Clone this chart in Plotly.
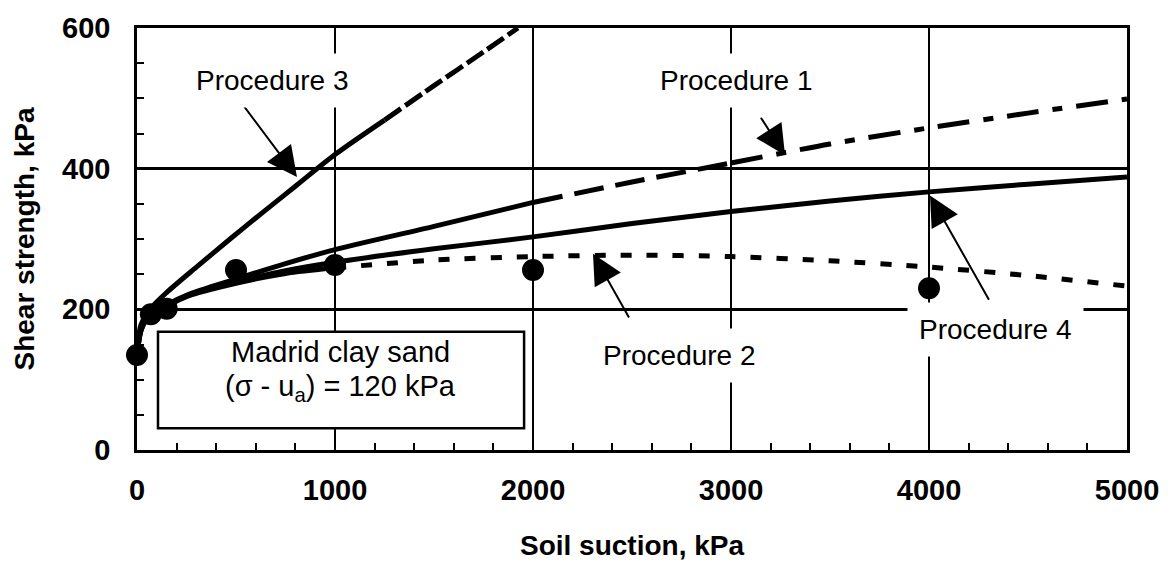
import plotly.graph_objects as go

# ---- data ----
suction_obs = [0, 70, 150, 500, 1000, 2000, 4000]
strength_obs = [135, 193, 201, 256, 263, 256, 230]

x_main = [0, 20, 50, 100, 250, 500, 750, 1000, 1500, 2000, 2500, 3000, 3500, 4000, 4500, 5000]
proc1 = [135, 170, 187, 198, 220, 243, 265, 285, 318, 352, 381, 408, 435, 458, 479, 499]
proc4 = [135, 170, 187, 197, 219, 239, 255, 267, 286, 303, 322, 339, 354, 367, 378, 388]
proc2 = [135, 170, 186, 196, 218, 237, 251, 259, 270, 275, 277, 275, 269, 260, 248, 233]

x_p3 = [0, 20, 75, 150, 300, 470, 640, 800, 1000, 1250, 1500, 1750, 1924]
proc3 = [135, 178, 203, 224, 260, 300, 339, 375, 420, 469, 518, 566, 600]

x_ticks = [0, 1000, 2000, 3000, 4000, 5000]
y_ticks = [0, 200, 400, 600]

FONT = "Liberation Sans"
fig = go.Figure()


def seg(xs, ys, lo, hi, dash, width=5):
    sx = [a for a in xs if lo <= a <= hi]
    sy = [b for a, b in zip(xs, ys) if lo <= a <= hi]
    fig.add_trace(go.Scatter(x=sx, y=sy, mode="lines",
                             line=dict(color="black", width=width, dash=dash,
                                       shape="spline", smoothing=0.8),
                             hoverinfo="skip", showlegend=False))


# Procedure 4 (solid)
seg(x_main, proc4, 0, 5000, "solid")
# Procedure 2 (solid then short dashes)
seg(x_main, proc2, 0, 1000, "solid")
seg(x_main, proc2, 1000, 5000, "11px,15px")
# Procedure 1 (solid, long dash, dash-dot)
seg(x_main, proc1, 0, 2000, "solid")
seg(x_main, proc1, 2000, 3000, "30px,12px")
seg(x_main, proc1, 3000, 5000, "32px,14px,10px,14px")
# Procedure 3 (solid then dashed)
seg(x_p3, proc3, 0, 1250, "solid")
seg(x_p3, proc3, 1250, 1924, "20px,5px")

# measured points
fig.add_trace(go.Scatter(x=suction_obs, y=strength_obs, mode="markers",
                         marker=dict(color="black", size=22), cliponaxis=False,
                         hoverinfo="skip", showlegend=False))

# Madrid clay box
fig.add_shape(type="rect", x0=106, x1=1955, y0=31, y1=168, xref="x", yref="y",
              line=dict(color="black", width=2.5), fillcolor="white", layer="above")
fig.add_annotation(x=1030, y=139, text="Madrid clay sand", showarrow=False,
                   font=dict(family=FONT, size=29, color="black"))
fig.add_annotation(x=1030, y=88, text="(σ - u<sub>a</sub>) = 120 kPa", showarrow=False,
                   font=dict(family=FONT, size=29, color="black"))

# arrows (tip -> tail)
arrows = [
    (808, 388, 505, 502),
    (3273, 419, 3136, 479),
    (2303, 279, 2500, 181),
    (4005, 362, 4318, 206),
]
for tx, ty, ax, ay in arrows:
    fig.add_annotation(x=tx, y=ty, ax=ax, ay=ay, xref="x", yref="y", axref="x", ayref="y",
                       text=" ", showarrow=True, arrowhead=2, arrowsize=3,
                       arrowwidth=2, arrowcolor="black")

labels = [
    ("Procedure 3", 682, 525),
    ("Procedure 1", 3030, 526),
    ("Procedure 2", 2742, 135),
    ("Procedure 4", 4338, 171),
]
for t, lx, ly in labels:
    fig.add_annotation(x=lx, y=ly, text=t, showarrow=False, bgcolor="white",
                       borderpad=11, font=dict(family=FONT, size=28, color="black"))

fig.update_layout(
    width=1175, height=561,
    margin=dict(l=137, r=48, t=28, b=111),
    paper_bgcolor="white", plot_bgcolor="white",
    font=dict(family=FONT, color="black"),
)
fig.update_xaxes(
    range=[0, 5000], tickvals=x_ticks, ticktext=[str(v) for v in x_ticks],
    showline=True, linecolor="black", linewidth=2.5, mirror=True,
    showgrid=True, gridcolor="black", gridwidth=1.5,
    ticks="inside", ticklen=7, tickwidth=2, tickcolor="black",
    minor=dict(dtick=200, ticks="inside", ticklen=7, tickwidth=2, tickcolor="black", showgrid=False),
    tickfont=dict(family=FONT, size=29, color="black", weight="bold"),
    ticklabelstandoff=12, automargin=False,
    title=dict(text="Soil suction, kPa", standoff=33,
               font=dict(family=FONT, size=28, color="black", weight="bold")),
    zeroline=False,
)
fig.update_yaxes(
    range=[0, 600], tickvals=y_ticks, ticktext=[str(v) for v in y_ticks],
    showline=True, linecolor="black", linewidth=2.5, mirror=True,
    showgrid=True, gridcolor="black", gridwidth=2.5,
    ticks="inside", ticklen=7, tickwidth=2, tickcolor="black",
    minor=dict(dtick=50, ticks="inside", ticklen=7, tickwidth=2, tickcolor="black", showgrid=False),
    tickfont=dict(family=FONT, size=29, color="black", weight="bold"),
    ticklabelstandoff=18, automargin=False,
    title=dict(text="Shear strength, kPa", standoff=20,
               font=dict(family=FONT, size=28, color="black", weight="bold")),
    zeroline=False,
)

fig.write_html("out.html")
